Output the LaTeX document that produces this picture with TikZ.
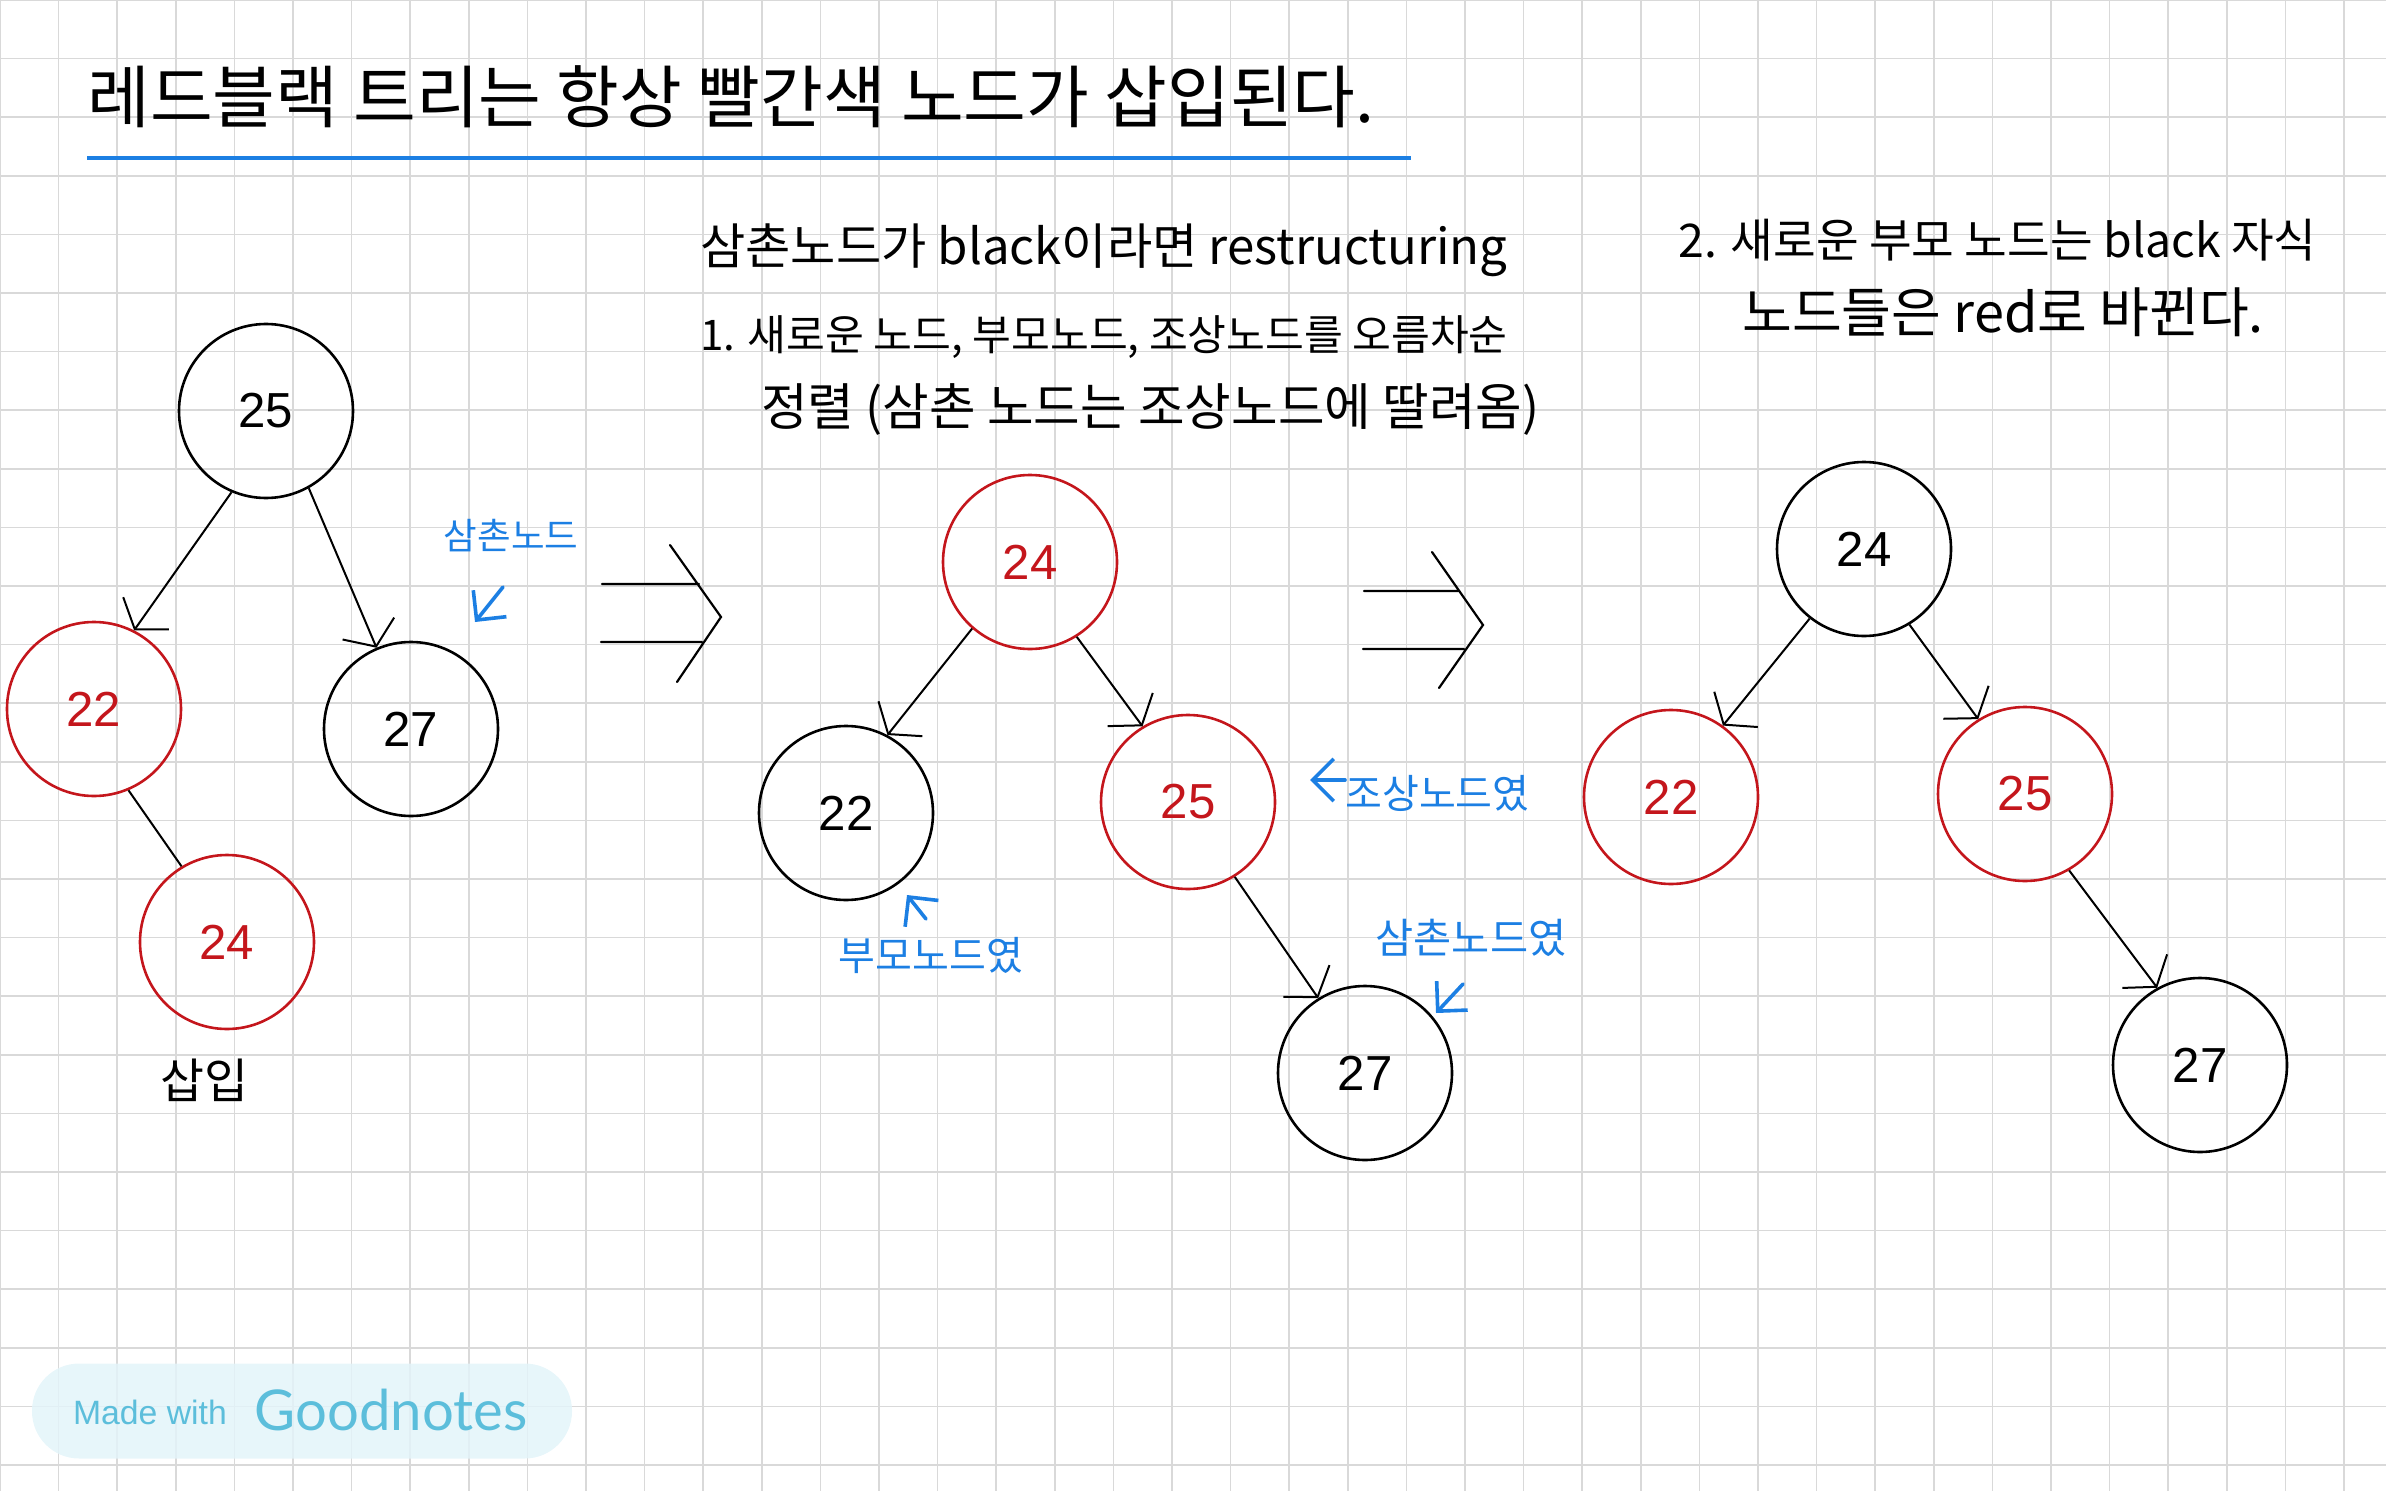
\documentclass[tikz,border=0pt]{standalone}
\usepackage{fontspec}
\setmainfont{Liberation Sans}
\newfontfamily\kr{Noto Sans CJK KR}
\newfontfamily\gn{Lato}
\definecolor{rbred}{HTML}{C4161C}
\definecolor{penblue}{HTML}{1C7FE3}
\definecolor{gridgray}{HTML}{D9D9D9}
\definecolor{gnband}{HTML}{E3F4F9}
\definecolor{gntext}{HTML}{5CBEDB}
\usetikzlibrary{arrows.meta}

\begin{document}
\begin{tikzpicture}[x=0.25mm,y=-0.25mm,
  tnode/.style={circle,draw,line width=0.65mm,minimum size=43.5mm,inner sep=0pt,
    font=\fontsize{35}{42}\selectfont},
  rnode/.style={tnode,draw=rbred,text=rbred},
  edge/.style={line width=0.5mm,-{Straight Barb[length=4.9mm,width=14mm]}},
  note/.style={font=\kr\fontsize{#1}{#1}\selectfont,anchor=west,inner sep=0pt},
  pen/.style={font=\kr\fontsize{#1}{#1}\selectfont,text=penblue,inner sep=0pt},
  pen/.default=28.5,
  penarr/.style={penblue,line width=0.9mm,line cap=round,
    -{Straight Barb[length=5.3mm,width=10.6mm]}},
  implies/.style={line width=0.55mm,line cap=round}]
  \useasboundingbox (0,0) rectangle (2386,1491);
  % squared paper
  \foreach \i in {0,...,40} \draw[gridgray,line width=0.4mm] (\i*58.6,0) -- (\i*58.6,1491);
  \foreach \j in {0,...,25} \draw[gridgray,line width=0.4mm] (0,\j*58.6) -- (2386,\j*58.6);

  \node[note=48.5] (title) at (87,97) {레드블랙 트리는 항상 빨간색 노드가 삽입된다.};
  \draw[penblue,line width=1mm] (87,158) -- (1411,158);

  % before
  \node[tnode] (a25) at (266,411) {25};
  \node[rnode] (a22) at (94,709) {22};
  \node[tnode] (a27) at (411,729) {27};
  \node[rnode] (a24) at (227,942) {24};
  \draw[edge] (a25.-113) -- (a22.63);
  \draw[edge] (a25.-61) -- (a27.113);
  \draw[line width=0.5mm] (a22.-67) -- (a24.121);
  \node[font=\kr\fontsize{34}{34}\selectfont] (ins) at (204,1080) {삽입};
  \node[pen=26] (uncle) at (511,536) {삼촌노드};
  \coordinate (uncle0) at (503,587);
  \coordinate (uncle1) at (475,622);
  \draw[penarr] (uncle0) -- (uncle1);

  \draw[implies] (602,584) -- (699,584) (601,642) -- (702,642)
    (670,545) -- (721,617) -- (677,682);

  % restructuring
  \node[note=35] (caseA) at (700,250) {삼촌노드가 black이라면 restructuring};
  \node[note=30] (stepA) at (700,337) {1. 새로운 노드, 부모노드, 조상노드를 오름차순};
  \node[note=36] (stepB) at (761,410) {정렬 (삼촌 노드는 조상노드에 딸려옴)};
  \node[rnode] (b24) at (1030,562) {24};
  \node[tnode] (b22) at (846,813) {22};
  \node[rnode] (b25) at (1188,802) {25};
  \node[tnode] (b27) at (1365,1073) {27};
  \draw[edge] (b24.-131) -- (b22.62);
  \draw[edge] (b24.-58) -- (b25.121);
  \draw[edge] (b25.-58) -- (b27.122);
  \node[pen,anchor=west] (wasgrand) at (1345,793) {조상노드였};
  \coordinate (grand0) at (1345,780);
  \coordinate (grand1) at (1310,780);
  \draw[penarr] (grand0) -- (grand1);
  \node[pen] (wasparent) at (931,955) {부모노드였};
  \coordinate (parent0) at (926,919);
  \coordinate (parent1) at (907,895);
  \draw[penarr] (parent0) -- (parent1);
  \node[pen=29.5] (wasuncle) at (1471,938) {삼촌노드였};
  \coordinate (wasuncle0) at (1463,984);
  \coordinate (wasuncle1) at (1436,1013);
  \draw[penarr] (wasuncle0) -- (wasuncle1);

  \draw[implies] (1364,591) -- (1458,591) (1363,649) -- (1464,649)
    (1432,552) -- (1483,625) -- (1439,688);

  % recolouring
  \node[note=33] (stepC) at (1678,240) {2. 새로운 부모 노드는 black 자식};
  \node[note=38.5] (stepD) at (1742,312) {노드들은 red로 바뀐다.};
  \node[tnode] (c24) at (1864,549) {24};
  \node[rnode] (c22) at (1671,797) {22};
  \node[rnode] (c25) at (2025,794) {25};
  \node[tnode] (c27) at (2200,1065) {27};
  \draw[edge] (c24.-128) -- (c22.54);
  \draw[edge] (c24.-59) -- (c25.122);
  \draw[edge] (c25.-60) -- (c27.119);

  % badge
  \node[fill=gnband,fill opacity=0.85,minimum width=135mm,minimum height=23.75mm,
    rounded corners=11.8mm] (badge) at (302,1411) {};
  \node[font=\fontsize{24}{29}\selectfont,text=gntext] (made) at (150,1412) {Made with};
  \node[font=\gn\fontsize{40}{48}\selectfont,text=gntext] (goodnotes) at (391,1410) {Goodnotes};
\end{tikzpicture}
\end{document}
